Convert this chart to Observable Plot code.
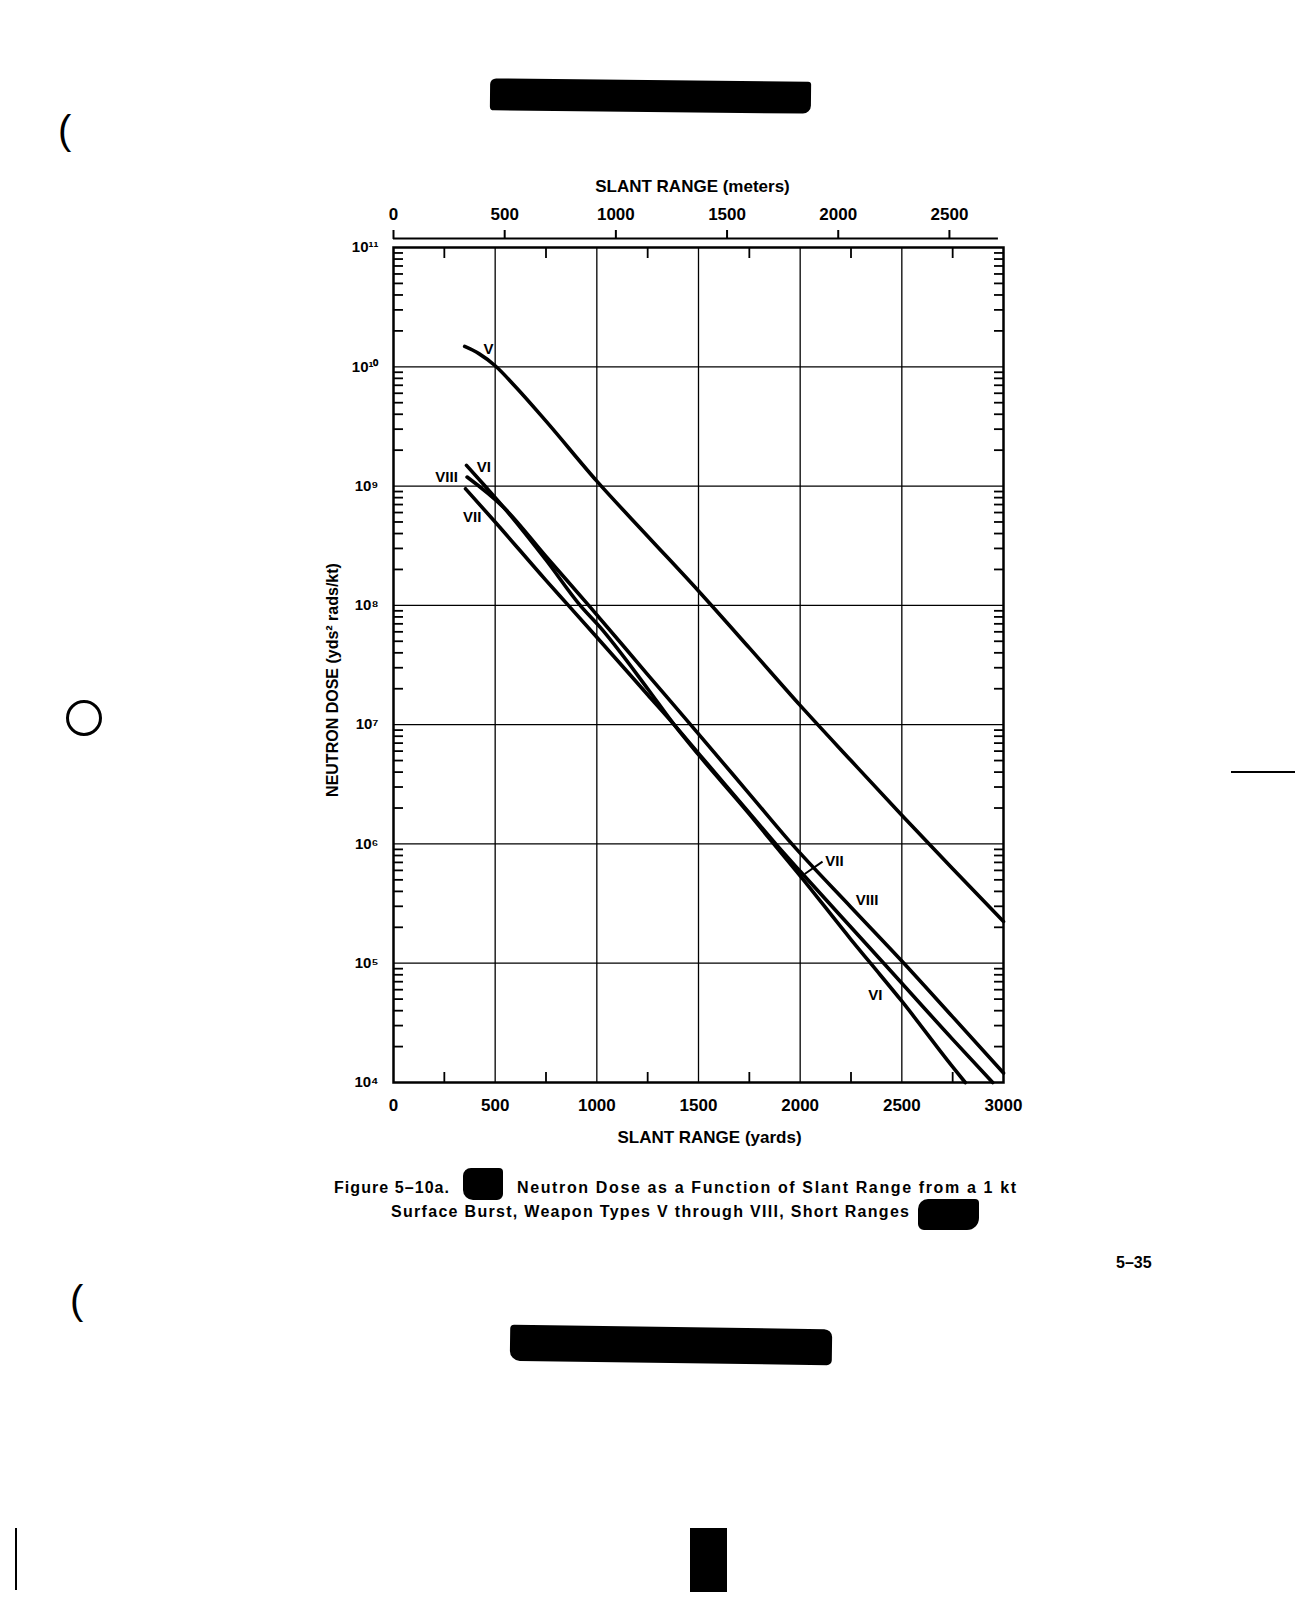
<!DOCTYPE html>
<html><head><meta charset="utf-8">
<script src="https://cdn.jsdelivr.net/npm/d3@7"></script>
<script src="https://cdn.jsdelivr.net/npm/@observablehq/plot@0.6"></script>
<style>
body{margin:0;background:#fff;width:1313px;height:1600px;position:relative;overflow:hidden;font-family:"Liberation Sans",Arial,sans-serif;}
#chart{position:absolute;left:0;top:0;}
.txt{position:absolute;font-weight:bold;color:#000;white-space:nowrap;line-height:1;}
.blob{position:absolute;background:#000;}
</style></head><body>
<div id="chart"></div>
<div class="blob" style="left:490px;top:80px;width:321px;height:32px;border-radius:6px 3px 8px 4px;transform:rotate(0.6deg);"></div>
<div class="blob" style="left:510px;top:1327px;width:322px;height:36px;border-radius:4px 8px 5px 10px;transform:rotate(0.8deg);"></div>
<div class="blob" style="left:690px;top:1528px;width:37px;height:64px;"></div>
<div class="blob" style="left:463px;top:1168px;width:40px;height:32px;border-radius:8px 4px 6px 10px;"></div>
<div class="blob" style="left:918px;top:1199px;width:61px;height:31px;border-radius:10px 4px 12px 6px;"></div>
<div class="txt" id="cap1a" style="left:334px;top:1180px;font-size:16px;">Figure 5–10a.</div>
<div class="txt" id="cap1b" style="left:517px;top:1180px;font-size:16px;">Neutron Dose as a Function of Slant Range from a 1 kt</div>
<div class="txt" id="cap2" style="left:391px;top:1204px;font-size:16px;">Surface Burst, Weapon Types V through VIII, Short Ranges</div>
<div class="txt" style="left:1116px;top:1255px;font-size:16px;">5–35</div>
<div class="txt" style="left:58px;top:110px;font-size:40px;font-weight:normal;">(</div>
<div class="txt" style="left:70px;top:1280px;font-size:40px;font-weight:normal;">(</div>
<div style="position:absolute;left:66px;top:700px;width:30px;height:30px;border:3px solid #000;border-radius:50%;"></div>
<div style="position:absolute;left:1231px;top:771px;width:64px;height:2px;background:#000;"></div>
<div style="position:absolute;left:15px;top:1528px;width:2px;height:62px;background:#000;"></div>
<script>
// ---- scales / ticks ----
const xDomain = [0, 3000];
const yDomain = [1e4, 1e11];
const xTickLabels = [0, 500, 1000, 1500, 2000, 2500, 3000];
const xGrid = [500, 1000, 1500, 2000, 2500];
const xMinorTicks = [250, 750, 1250, 1750, 2250, 2750];
const meterTicks = [0, 500, 1000, 1500, 2000, 2500];
const yDecades = [1e4, 1e5, 1e6, 1e7, 1e8, 1e9, 1e10, 1e11];
const yGrid = [1e5, 1e6, 1e7, 1e8, 1e9, 1e10];
const minorMultipliers = [2, 3, 4, 5, 6, 7, 8, 9];

// ---- series (slant range in yards, dose in yds^2 rads/kt) ----
const rangeV = [350, 420, 500, 600, 750, 1000, 1250, 1500, 1750, 2000, 2250, 2500, 2750, 3000];
const doseV  = [1.48e10, 1.29e10, 1.02e10, 6.8e9, 3.5e9, 1.1e9, 3.8e8, 1.32e8, 4.4e7, 1.45e7, 5.0e6, 1.74e6, 6.2e5, 2.24e5];
const rangeVI = [359, 450, 543, 750, 918, 1018, 1250, 1380, 1500, 1750, 1870, 2000, 2250, 2346, 2500, 2750, 2812];
const doseVI  = [1.49e9, 1.0e9, 6.6e8, 2.4e8, 1.0e8, 6.5e7, 2.0e7, 1.0e7, 5.6e6, 1.78e6, 1.0e6, 5.4e5, 1.58e5, 1.0e5, 4.8e4, 1.35e4, 1.0e4];
const rangeVII = [354, 500, 750, 860, 1000, 1250, 1380, 1500, 1750, 1880, 2000, 2250, 2411, 2750, 2947];
const doseVII  = [9.5e8, 5.0e8, 1.62e8, 1.0e8, 5.4e7, 1.78e7, 1.0e7, 5.75e6, 1.82e6, 1.0e6, 5.9e5, 2.0e5, 1.0e5, 2.3e4, 1.0e4];
const rangeVIII = [362, 543, 750, 960, 1250, 1461, 1750, 1959, 2250, 2510, 2750, 3000];
const doseVIII  = [1.19e9, 6.6e8, 2.57e8, 1.0e8, 2.63e7, 1.0e7, 2.63e6, 1.0e6, 2.95e5, 1.0e5, 3.55e4, 1.2e4];

// ---- curve labels ----
const labelText  = ["V", "VI", "VIII", "VII", "VII", "VIII", "VI"];
const labelRange = [467, 444, 261, 387, 2169, 2329, 2370];
const labelDose  = [1.41e10, 1.44e9, 1.19e9, 5.5e8, 7.2e5, 3.36e5, 5.4e4];
const leaderRange = [2110, 2022];
const leaderDose  = [7.1e5, 5.6e5];

// ---- titles ----
const titleTop = "SLANT RANGE (meters)";
const titleBottom = "SLANT RANGE (yards)";
const titleLeft = "NEUTRON DOSE (yds² rads/kt)";

const series = [
  {name: "V", range: rangeV, dose: doseV},
  {name: "VI", range: rangeVI, dose: doseVI},
  {name: "VII", range: rangeVII, dose: doseVII},
  {name: "VIII", range: rangeVIII, dose: doseVIII}
];
const rows = series.flatMap(s => s.range.map((r, i) => ({series: s.name, range: r, dose: s.dose[i]})));
const labels = labelText.map((t, i) => ({text: t, range: labelRange[i], dose: labelDose[i]}));
const yMinor = yDecades.slice(0, -1).flatMap(d => minorMultipliers.map(m => m * d));
const sup = {"0":"⁰","1":"¹","2":"²","3":"³","4":"⁴","5":"⁵","6":"⁶","7":"⁷","8":"⁸","9":"⁹"};
const pow10 = d => "10" + String(Math.round(Math.log10(d))).split("").map(c => sup[c]).join("");
const YD_PER_M = 1 / 0.9144;

const plot = Plot.plot({
  width: 1313, height: 1160,
  marginLeft: 393, marginRight: 310, marginTop: 247, marginBottom: 78,
  x: {domain: xDomain, label: null},
  y: {type: "log", domain: yDomain, label: null},
  style: {fontFamily: "'Liberation Sans', Arial, sans-serif", fontWeight: "bold", color: "black", background: "white", overflow: "visible"},
  marks: [
    Plot.gridX(xGrid, {stroke: "black", strokeOpacity: 1, strokeWidth: 1.3}),
    Plot.gridY(yGrid, {stroke: "black", strokeOpacity: 1, strokeWidth: 1.3}),
    Plot.axisY(yMinor, {anchor: "left", tickSize: -10, fill: "none", strokeWidth: 1.8, label: null}),
    Plot.axisY(yMinor, {anchor: "right", tickSize: -10, fill: "none", strokeWidth: 1.8, label: null}),
    Plot.axisX(xMinorTicks, {anchor: "bottom", tickSize: -10, fill: "none", strokeWidth: 1.8, label: null}),
    Plot.axisX(xMinorTicks, {anchor: "top", tickSize: -10, fill: "none", strokeWidth: 1.8, label: null}),
    Plot.axisY(yDecades, {anchor: "left", tickSize: 0, tickPadding: 15, tickFormat: pow10, fontSize: 15, label: null}),
    Plot.axisX(xTickLabels, {anchor: "bottom", tickSize: 0, tickPadding: 16, tickFormat: d => String(d), fontSize: 17, label: null}),
    Plot.axisX(meterTicks.map(m => m * YD_PER_M), {anchor: "top", tickSize: 9, dy: -9, tickPadding: 10, strokeWidth: 2,
      tickFormat: d => String(Math.round(d / YD_PER_M)), fontSize: 17, label: null}),
    Plot.ruleY([yDomain[1]], {x1: xDomain[0], x2: xDomain[1] - 25, dy: -9, strokeWidth: 2}),
    Plot.frame({strokeWidth: 2.5}),
    Plot.line(rows, {x: "range", y: "dose", z: "series", stroke: "black", strokeWidth: 3.6, curve: "monotone-x"}),
    Plot.link([0], {x1: () => leaderRange[0], y1: () => leaderDose[0], x2: () => leaderRange[1], y2: () => leaderDose[1], strokeWidth: 2}),
    Plot.text(labels, {x: "range", y: "dose", text: "text", fontSize: 15}),
    Plot.text([titleTop], {text: d => d, frameAnchor: "top", textAnchor: "middle", lineAnchor: "middle", dx: -6, dy: -61, fontSize: 17}),
    Plot.text([titleBottom], {text: d => d, frameAnchor: "bottom", textAnchor: "middle", lineAnchor: "middle", dx: 11, dy: 55, fontSize: 17}),
    Plot.text([titleLeft], {text: d => d, frameAnchor: "left", textAnchor: "middle", lineAnchor: "middle", rotate: -90, dx: -61, dy: 15, fontSize: 16})
  ]
});
document.getElementById("chart").appendChild(plot);

// stretch caption lines to the widths of the printed caption
function fit(id, target) {
  const el = document.getElementById(id);
  const n = el.textContent.length - 1;
  const w = el.getBoundingClientRect().width;
  if (n > 0) el.style.letterSpacing = ((target - w) / n) + "px";
}
fit("cap1b", 499);
fit("cap2", 518);
fit("cap1a", 115);
</script>
</body></html>
